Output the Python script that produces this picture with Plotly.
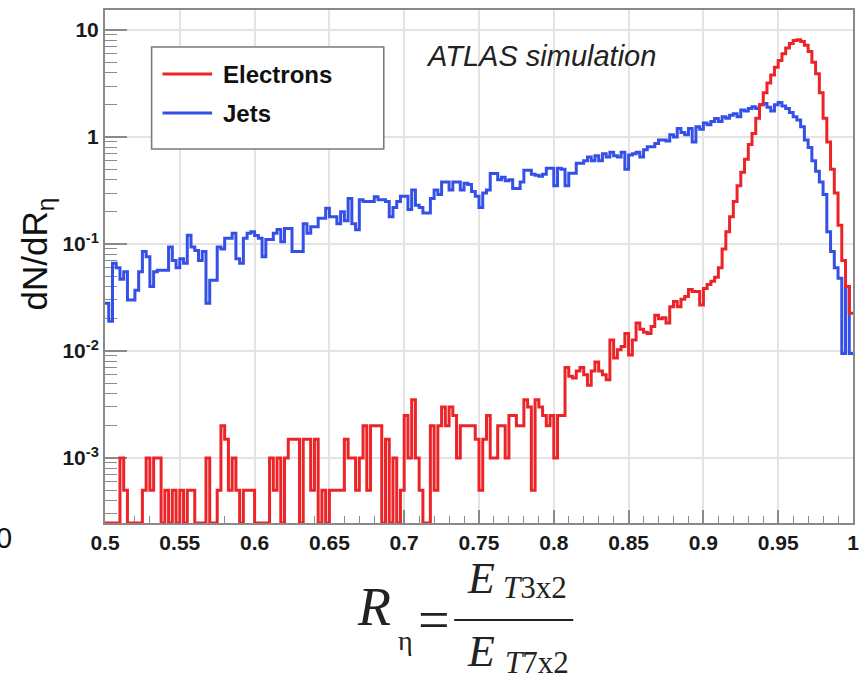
import math
import plotly.graph_objects as go

# ---------------- data ----------------
BIN_LOW = 0.5
BIN_HIGH = 1.0
N_BINS = 200

electrons = [
    0, 0, 0, 0, 0.001, 0.0005, 0, 0, 0, 0,
    0.0005, 0.001, 0.0005, 0.001, 0.001, 0, 0.0005, 0, 0.0005, 0,
    0.0005, 0, 0.0005, 0.0005, 0, 0, 0, 0.001, 0, 0,
    0.0005, 0.002, 0.0015, 0.0005, 0.001, 0.0005, 0, 0.0005, 0.0005, 0.0005,
    0, 0, 0, 0, 0.001, 0.0005, 0.001, 0, 0.001, 0.0015,
    0.0015, 0.0015, 0, 0.0015, 0.0015, 0.0005, 0.0015, 0, 0.0005, 0,
    0.0005, 0.0005, 0.0005, 0.0005, 0.0015, 0.001, 0.001, 0.0005, 0.001, 0.002,
    0.0005, 0.002, 0.002, 0.002, 0, 0.0015, 0, 0.001, 0, 0.0005,
    0.0025, 0.001, 0.0035, 0.001, 0.0005, 0, 0, 0.002, 0.0005, 0.002,
    0.003, 0.002, 0.003, 0.0025, 0.001, 0.002, 0.002, 0.002, 0.002, 0.0015,
    0.0005, 0.0015, 0.0025, 0.001, 0.001, 0.002, 0.002, 0.001, 0.0025, 0.0025,
    0.002, 0.002, 0.0035, 0.003, 0.0005, 0.0035, 0.003, 0.0025, 0.002, 0.0025,
    0.001, 0.0025, 0.0025, 0.007, 0.0058, 0.0056, 0.0065, 0.007, 0.006, 0.0048,
    0.0065, 0.0079, 0.0065, 0.006, 0.0054, 0.0127, 0.0086, 0.0103, 0.011, 0.0146,
    0.0092, 0.0127, 0.0183, 0.016, 0.015, 0.0146, 0.017, 0.0216, 0.02, 0.0205,
    0.0183, 0.0259, 0.029, 0.026, 0.0305, 0.0324, 0.0375, 0.036, 0.036, 0.027,
    0.0385, 0.0418, 0.045, 0.049, 0.06, 0.09, 0.13, 0.18, 0.25, 0.35,
    0.47, 0.62, 0.85, 1.08, 1.5, 2.0, 2.6, 3.2, 3.8, 4.5,
    5.2, 6.0, 6.8, 7.5, 8.0, 8.1, 7.8, 7.2, 6.3, 5.0,
    3.9, 2.6, 1.5, 0.9, 0.5, 0.3, 0.15, 0.07, 0.04, 0.0226,
]

jets = [
    0.028, 0.019, 0.066, 0.06, 0.047, 0.055, 0.03, 0.03, 0.037, 0.055,
    0.085, 0.076, 0.04, 0.055, 0.057, 0.057, 0.057, 0.094, 0.07, 0.06,
    0.073, 0.066, 0.121, 0.094, 0.087, 0.07, 0.085, 0.028, 0.046, 0.046,
    0.094, 0.09, 0.113, 0.113, 0.126, 0.073, 0.066, 0.113, 0.126, 0.13,
    0.12, 0.113, 0.076, 0.11, 0.11, 0.126, 0.137, 0.105, 0.14, 0.14,
    0.085, 0.085, 0.085, 0.155, 0.126, 0.145, 0.145, 0.174, 0.174, 0.216,
    0.18, 0.18, 0.155, 0.2, 0.165, 0.267, 0.155, 0.136, 0.26, 0.25,
    0.25, 0.25, 0.277, 0.26, 0.26, 0.25, 0.18, 0.22, 0.25, 0.28,
    0.28, 0.21, 0.32, 0.23, 0.22, 0.195, 0.195, 0.267, 0.32, 0.29,
    0.38, 0.38, 0.32, 0.38, 0.38, 0.32, 0.37, 0.36, 0.31, 0.28,
    0.22, 0.3, 0.32, 0.457, 0.457, 0.4, 0.42, 0.39, 0.4, 0.33,
    0.33, 0.38, 0.49, 0.49, 0.45, 0.44, 0.43, 0.45, 0.51, 0.51,
    0.35, 0.51, 0.5, 0.35, 0.46, 0.46, 0.57, 0.57, 0.6, 0.65,
    0.6, 0.67, 0.6, 0.7, 0.65, 0.72, 0.67, 0.65, 0.72, 0.5,
    0.68, 0.7, 0.72, 0.65, 0.76, 0.81, 0.81, 0.87, 0.94, 0.94,
    0.92, 1.05, 1.0, 1.2, 1.1, 1.05, 1.2, 0.9, 1.25, 1.18,
    1.35, 1.3, 1.4, 1.49, 1.4, 1.55, 1.5, 1.6, 1.65, 1.55,
    1.79, 1.75, 1.85, 1.92, 1.85, 2.0, 2.06, 1.9, 1.75, 2.0,
    2.1, 1.95, 1.85, 1.7, 1.55, 1.44, 1.25, 0.94, 0.8, 0.6,
    0.48, 0.38, 0.29, 0.13, 0.085, 0.06, 0.048, 0.0095, 0.04, 0.0095,
]

assert len(electrons) == N_BINS and len(jets) == N_BINS

x_tick_labels = ["0.5", "0.55", "0.6", "0.65", "0.7", "0.75", "0.8", "0.85",
                 "0.9", "0.95", "1"]
y_tick_values = [0.001, 0.01, 0.1, 1, 10]
y_tick_labels = ["10<sup>-3</sup>", "10<sup>-2</sup>", "10<sup>-1</sup>", "1", "10"]

Y_MIN, Y_MAX = 2.47e-4, 15.4   # visible y range (log axis)

# ---------------- geometry ----------------
FIG_W, FIG_H = 863, 683
M_L, M_R, M_T, M_B = 105, 4, 10, 160
PLOT_W = FIG_W - M_L - M_R
PLOT_H = FIG_H - M_T - M_B


def px(x):
    return (x - M_L) / PLOT_W


def py(y):
    return (FIG_H - M_B - y) / PLOT_H


RED = "#ec2428"
BLUE = "#3450e6"
GRID = "#e4e4e4"
FRAME = "#8a8a8a"

bin_w = (BIN_HIGH - BIN_LOW) / N_BINS
edges = [BIN_LOW + i * bin_w for i in range(N_BINS + 1)]


def hist_y(vals):
    # empty bins are drawn on the lower frame, as ROOT does
    v = [val if val > 0 else Y_MIN for val in vals]
    return v + [v[-1]]


fig = go.Figure()
fig.add_trace(go.Scatter(x=edges, y=hist_y(jets), mode="lines", line_shape="hv",
                         line=dict(color=BLUE, width=3), name="Jets",
                         showlegend=False))
fig.add_trace(go.Scatter(x=edges, y=hist_y(electrons), mode="lines", line_shape="hv",
                         line=dict(color=RED, width=3), name="Electrons",
                         showlegend=False))

tick_font = dict(family="Liberation Sans", size=21, color="#1a1a1a", weight="bold")

fig.update_xaxes(
    range=[BIN_LOW, BIN_HIGH], tickmode="array",
    tickvals=[float(t) for t in x_tick_labels], ticktext=x_tick_labels,
    ticks="inside", ticklen=13, tickwidth=1.5, tickcolor=FRAME,
    minor=dict(ticks="inside", ticklen=7, tickwidth=1.2, tickcolor=FRAME,
               dtick=0.01, tick0=0.5, showgrid=False),
    showgrid=True, gridcolor=GRID, gridwidth=1.5,
    showline=True, linecolor=FRAME, linewidth=2, mirror=True,
    tickfont=tick_font, zeroline=False, layer="below traces",
    ticklabeloverflow="allow",
)

minor_vals = [m * 10.0 ** e for e in range(-4, 2) for m in range(2, 10)]
fig.update_yaxes(
    type="log", range=[math.log10(Y_MIN), math.log10(Y_MAX)],
    tickmode="array", tickvals=y_tick_values, ticktext=y_tick_labels,
    ticks="inside", ticklen=22, tickwidth=1.5, tickcolor=FRAME,
    minor=dict(ticks="inside", ticklen=12, tickwidth=1.2, tickcolor=FRAME,
               tickmode="array", tickvals=minor_vals, showgrid=False),
    showgrid=True, gridcolor=GRID, gridwidth=1.5,
    showline=True, linecolor=FRAME, linewidth=2, mirror=True,
    tickfont=tick_font, zeroline=False, layer="below traces",
)

shapes = [
    # legend box
    dict(type="rect", xref="paper", yref="paper", x0=px(152), x1=px(386),
         y0=py(149), y1=py(47), line=dict(color="#7a7a7a", width=1.6),
         fillcolor="white", layer="above"),
    dict(type="line", xref="paper", yref="paper", x0=px(163), x1=px(213),
         y0=py(74), y1=py(74), line=dict(color=RED, width=3)),
    dict(type="line", xref="paper", yref="paper", x0=px(163), x1=px(213),
         y0=py(113), y1=py(113), line=dict(color=BLUE, width=3)),
    # fraction bar of the formula
    dict(type="line", xref="paper", yref="paper", x0=px(457), x1=px(577),
         y0=py(620), y1=py(620), line=dict(color="#222222", width=2)),
]

serif = "Liberation Serif"
ink = "#222222"
ann = [
    dict(text="Electrons", x=px(222), y=py(74), xanchor="left", yanchor="middle",
         font=dict(family="Liberation Sans", size=24, color="#111111", weight="bold")),
    dict(text="Jets", x=px(222), y=py(113), xanchor="left", yanchor="middle",
         font=dict(family="Liberation Sans", size=24, color="#111111", weight="bold")),
    dict(text="<i>ATLAS simulation</i>", x=px(427), y=py(56), xanchor="left",
         yanchor="middle", font=dict(family="Liberation Sans", size=29, color=ink)),
    dict(text="dN/dR<sub>η</sub>", x=px(36), y=py(254), xanchor="center",
         yanchor="middle", textangle=-90,
         font=dict(family="Liberation Sans", size=35, color="#111111")),
    dict(text="0", x=px(-7), y=py(538), xanchor="left", yanchor="middle",
         font=dict(family="Liberation Sans", size=29, color="#111111")),
    # formula R_eta = E_T3x2 / E_T7x2
    dict(text="<i>R</i>", x=px(376), y=py(607), xanchor="center", yanchor="middle",
         font=dict(family=serif, size=54, color=ink)),
    dict(text="η", x=px(408), y=py(640), xanchor="center", yanchor="middle",
         font=dict(family=serif, size=28, color=ink)),
    dict(text="=", x=px(437), y=py(620), xanchor="center", yanchor="middle",
         font=dict(family=serif, size=56, color=ink)),
    dict(text="<i>E</i>", x=px(484), y=py(578), xanchor="center", yanchor="middle",
         font=dict(family=serif, size=44, color=ink)),
    dict(text="<i>T</i>3x2", x=px(504), y=py(587), xanchor="left", yanchor="middle",
         font=dict(family=serif, size=31, color=ink)),
    dict(text="<i>E</i>", x=px(484), y=py(651), xanchor="center", yanchor="middle",
         font=dict(family=serif, size=44, color=ink)),
    dict(text="<i>T</i>7x2", x=px(506), y=py(662), xanchor="left", yanchor="middle",
         font=dict(family=serif, size=31, color=ink)),
]
for a in ann:
    a.update(xref="paper", yref="paper", showarrow=False)

fig.update_layout(
    width=FIG_W, height=FIG_H,
    margin=dict(l=M_L, r=M_R, t=M_T, b=M_B),
    paper_bgcolor="white", plot_bgcolor="white",
    showlegend=False, shapes=shapes, annotations=ann,
)

fig.write_html("out.html")
